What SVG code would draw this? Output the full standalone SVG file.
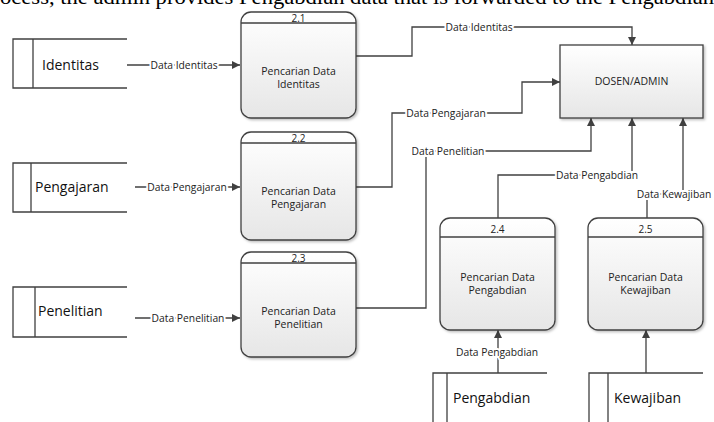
<svg xmlns="http://www.w3.org/2000/svg" width="714" height="422" viewBox="0 0 714 422">
<defs>
<linearGradient id="pg" x1="0" y1="0" x2="0" y2="1">
<stop offset="0" stop-color="#ffffff"/>
<stop offset="1" stop-color="#e6e6e6"/>
</linearGradient>
<filter id="sh" x="-10%" y="-10%" width="125%" height="125%">
<feDropShadow dx="1.5" dy="1.5" stdDeviation="1" flood-color="#000" flood-opacity="0.25"/>
</filter>
<marker id="ah" viewBox="0 0 10 10" refX="10" refY="5" markerWidth="8" markerHeight="8" markerUnits="userSpaceOnUse" orient="auto">
<path d="M0,0 L10,5 L0,10 Z" fill="#404040"/>
</marker>
</defs>
<style>
.top{font-family:"Liberation Serif","Times New Roman",serif;font-size:20px;fill:#000}
.proc{fill:url(#pg);stroke:#404040;stroke-width:1.3;filter:url(#sh)}
.hdr{stroke:#404040;stroke-width:1.3}
.t{font-family:"Open Sans","DejaVu Sans",sans-serif;font-size:10.5px;fill:#222;text-anchor:middle}
.n{font-family:"Open Sans","DejaVu Sans",sans-serif;font-size:10px;fill:#222;text-anchor:middle;dominant-baseline:central}
.store{font-family:"Open Sans","DejaVu Sans",sans-serif;font-size:14px;fill:#111}
.sl{fill:none;stroke:#404040;stroke-width:1.3}
.c{fill:none;stroke:#404040;stroke-width:1.3}
.lbl{font-family:"Open Sans","DejaVu Sans",sans-serif;font-size:10.3px;fill:#222;text-anchor:middle;dominant-baseline:central;stroke:#fff;stroke-width:4;paint-order:stroke}
</style>
<rect width="714" height="422" fill="#fff"/>
<text class="top" x="0" y="4" textLength="714" lengthAdjust="spacingAndGlyphs">ocess, the admin provides Pengabdian data that is forwarded to the Pengabdian</text>

<g id="connectors">
<path class="c" d="M127,65 H240" marker-end="url(#ah)"/>
<path class="c" d="M135,187 H240" marker-end="url(#ah)"/>
<path class="c" d="M135,318 H240" marker-end="url(#ah)"/>
<path class="c" d="M356,56 H412 V27 H632 V45" marker-end="url(#ah)"/>
<path class="c" d="M356,187 H392 V113 H522 V82 H560" marker-end="url(#ah)"/>
<path class="c" d="M356,308 H426 V151 H591 V118" marker-end="url(#ah)"/>
<path class="c" d="M498,218 V175 H632 V118" marker-end="url(#ah)"/>
<path class="c" d="M647,218 V194 H683 V118" marker-end="url(#ah)"/>
<path class="c" d="M498,373 V330" marker-end="url(#ah)"/>
<path class="c" d="M646,373 V330" marker-end="url(#ah)"/>
<text class="lbl" x="184" y="65">Data Identitas</text>
<text class="lbl" x="187" y="187">Data Pengajaran</text>
<text class="lbl" x="188" y="318">Data Penelitian</text>
<text class="lbl" x="479" y="27">Data Identitas</text>
<text class="lbl" x="446" y="113">Data Pengajaran</text>
<text class="lbl" x="448" y="151">Data Penelitian</text>
<text class="lbl" x="597" y="175">Data Pengabdian</text>
<text class="lbl" x="674" y="194">Data Kewajiban</text>
<text class="lbl" x="497" y="352">Data Pengabdian</text>
</g>

<g id="store-identitas">
<path class="sl" d="M127,39 H13 V88 H127 M33,39 V88"/>
<text class="store" x="42" y="70">Identitas</text>
</g>
<g id="store-pengajaran">
<path class="sl" d="M127,163 H13 V212 H127 M31,163 V212"/>
<text class="store" x="35" y="192">Pengajaran</text>
</g>
<g id="store-penelitian">
<path class="sl" d="M127,287 H13 V337 H127 M35,287 V337"/>
<text class="store" x="38" y="316">Penelitian</text>
</g>
<g id="store-pengabdian">
<path class="sl" d="M547,373 H433 V430 M447,373 V430"/>
<text class="store" x="453" y="403">Pengabdian</text>
</g>
<g id="store-kewajiban">
<path class="sl" d="M703,373 H589 V430 M608,373 V430"/>
<text class="store" x="614" y="403">Kewajiban</text>
</g>

<g id="p21">
<rect class="proc" x="241" y="12" width="115" height="106" rx="10"/>
<line class="hdr" x1="241" y1="23" x2="356" y2="23"/>
<text class="n" x="298.5" y="17.5">2.1</text>
<text class="t" x="298.5" y="75">Pencarian Data</text>
<text class="t" x="298.5" y="88">Identitas</text>
</g>
<g id="p22">
<rect class="proc" x="241" y="132" width="115" height="108" rx="10"/>
<line class="hdr" x1="241" y1="143" x2="356" y2="143"/>
<text class="n" x="298.5" y="137.5">2.2</text>
<text class="t" x="298.5" y="195">Pencarian Data</text>
<text class="t" x="298.5" y="208">Pengajaran</text>
</g>
<g id="p23">
<rect class="proc" x="241" y="252" width="115" height="105" rx="10"/>
<line class="hdr" x1="241" y1="263" x2="356" y2="263"/>
<text class="n" x="298.5" y="257.5">2.3</text>
<text class="t" x="298.5" y="315">Pencarian Data</text>
<text class="t" x="298.5" y="328">Penelitian</text>
</g>
<g id="p24">
<rect class="proc" x="440" y="218" width="115" height="112" rx="10"/>
<line class="hdr" x1="440" y1="237" x2="555" y2="237"/>
<text class="n" x="497.5" y="228.5">2.4</text>
<text class="t" x="497.5" y="281">Pencarian Data</text>
<text class="t" x="497.5" y="294">Pengabdian</text>
</g>
<g id="p25">
<rect class="proc" x="588" y="218" width="115" height="112" rx="10"/>
<line class="hdr" x1="588" y1="237" x2="703" y2="237"/>
<text class="n" x="645.5" y="228.5">2.5</text>
<text class="t" x="645.5" y="281">Pencarian Data</text>
<text class="t" x="645.5" y="294">Kewajiban</text>
</g>
<g id="dosen-admin">
<rect class="proc" x="560" y="45" width="143" height="73"/>
<text class="t" x="631.5" y="85">DOSEN/ADMIN</text>
</g>
</svg>
